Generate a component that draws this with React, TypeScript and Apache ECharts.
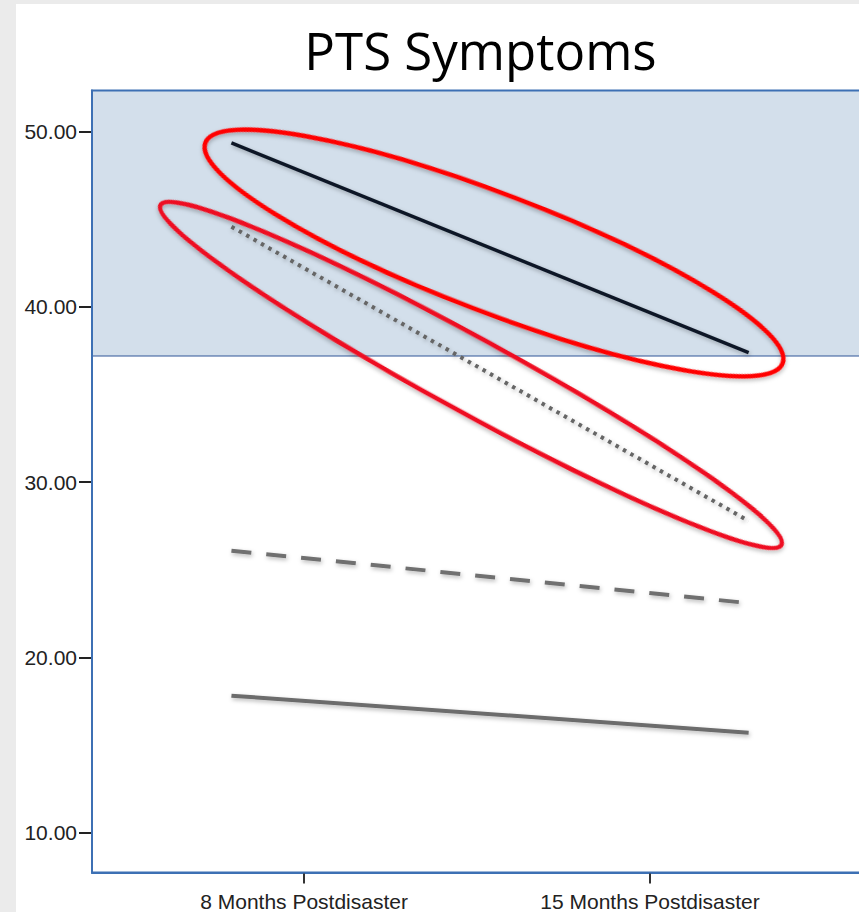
import React, { useEffect, useRef } from "react";
import * as echarts from "echarts";

// ---- data ----
const timepoints = ["8 Months Postdisaster", "15 Months Postdisaster"];
const timepointTicks = [1, 2];
const lineX = [0.79, 2.285];
const chronicHigh = [49.36, 37.39]; // black solid
const recovering = [44.58, 27.79]; // gray dotted
const moderate = [26.09, 23.1]; // gray dashed
const resilient = [17.82, 15.71]; // gray solid
const yTicks = [10, 20, 30, 40, 50];
const cutoff = 37.2;
const yMin = 7.73;
const yMax = 52.35;
const xMin = 0.387;
const xMax = 3.0;

const pairs = (vals: number[]) => vals.map((v, i) => [lineX[i], v]);

const shadow = {
  shadowColor: "rgba(0,0,0,0.28)",
  shadowBlur: 4,
  shadowOffsetY: 2,
  shadowOffsetX: 1,
};

export default function App() {
  const ref = useRef<HTMLDivElement>(null);
  useEffect(() => {
    if (!ref.current) return;
    const chart = echarts.init(ref.current, null, { renderer: "svg" });
    const option: any = {
      animation: false,
      backgroundColor: "#ffffff",
      grid: {
        left: 76,
        top: 86.5,
        height: 782,
        width: 904,
        show: true,
        borderColor: "#3d70b4",
        borderWidth: 2,
        z: 10,
        containLabel: false,
        outerBoundsMode: "none",
      },
      xAxis: {
        type: "value",
        min: xMin,
        max: xMax,
        splitLine: { show: false },
        axisLine: { show: true, lineStyle: { color: "#3d70b4", width: 2 } },
        axisTick: {
          show: true,
          customValues: timepointTicks,
          length: 11,
          lineStyle: { color: "#333", width: 2 },
        },
        axisLabel: {
          customValues: timepointTicks,
          formatter: (v: number) => timepoints[Math.round(v) - 1] ?? "",
          fontFamily: "Liberation Sans, Arial, sans-serif",
          fontSize: 21,
          color: "#222",
          margin: 18,
        },
      },
      yAxis: {
        type: "value",
        min: yMin,
        max: yMax,
        splitLine: { show: false },
        axisLine: { show: true, lineStyle: { color: "#3d70b4", width: 2 } },
        axisTick: {
          show: true,
          customValues: yTicks,
          length: 13,
          lineStyle: { color: "#222", width: 2 },
        },
        axisLabel: {
          customValues: yTicks,
          formatter: (v: number) => v.toFixed(2),
          fontFamily: "Liberation Sans, Arial, sans-serif",
          fontSize: 21,
          color: "#222",
          margin: 15,
        },
      },
      graphic: [
        {
          type: "text",
          x: 480.5 - 16,
          y: 46,
          z: 50,
          style: {
            text: "PTS Symptoms",
            fontFamily: "Open Sans",
            fontSize: 51,
            fill: "#000",
            align: "center",
            verticalAlign: "middle",
          },
        },
        {
          type: "ellipse",
          x: 478,
          y: 249,
          rotation: -(20.9 * Math.PI) / 180,
          z: 100,
          shape: { cx: 0, cy: 0, rx: 309, ry: 59 },
          style: { fill: "none", stroke: "#ff0000", lineWidth: 4.5, ...shadow },
        },
        {
          type: "ellipse",
          x: 455,
          y: 371,
          rotation: -(28.66 * Math.PI) / 180,
          z: 100,
          shape: { cx: 0, cy: 0, rx: 354, ry: 37 },
          style: { fill: "none", stroke: "#ee1020", lineWidth: 4.5, ...shadow },
        },
      ],
      series: [
        {
          name: "Chronic",
          type: "line",
          data: pairs(chronicHigh),
          showSymbol: false,
          lineStyle: { color: "#0e1827", width: 3.5, ...shadow },
          markArea: {
            silent: true,
            itemStyle: { color: "#d3dfeb", borderColor: "#2f5597", borderWidth: 1 },
            data: [[{ yAxis: cutoff }, { yAxis: yMax }]],
          },
        },
        {
          name: "Recovery",
          type: "line",
          data: pairs(recovering),
          showSymbol: false,
          lineStyle: { color: "#666666", width: 4, type: [3.5, 5], ...shadow },
        },
        {
          name: "Moderate",
          type: "line",
          data: pairs(moderate),
          showSymbol: false,
          lineStyle: { color: "#707070", width: 4, type: [20, 15], ...shadow },
        },
        {
          name: "Resilient",
          type: "line",
          data: pairs(resilient),
          showSymbol: false,
          lineStyle: { color: "#6c6c6c", width: 4, ...shadow },
        },
      ],
    };
    chart.setOption(option);
    return () => chart.dispose();
  }, []);
  return (
    <div
      style={{
        position: "fixed",
        left: 0,
        top: 0,
        width: 859,
        height: 912,
        background: "#ebebeb",
        overflow: "hidden",
      }}
    >
      <div
        ref={ref}
        style={{
          position: "absolute",
          left: 16,
          top: 4,
          width: 843,
          height: 908,
          background: "#ffffff",
        }}
      />
    </div>
  );
}
